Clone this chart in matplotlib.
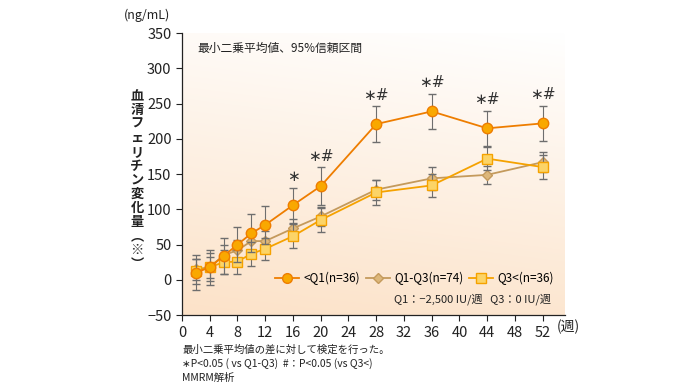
import numpy as np
import matplotlib
matplotlib.use("Agg")
import matplotlib.pyplot as plt
from matplotlib.lines import Line2D

plt.rcParams['font.family'] = ['Noto Sans CJK JP', 'DejaVu Sans']

weeks = [2, 4, 6, 8, 10, 12, 16, 20, 28, 36, 44, 52]
q1 = [10, 18, 34, 50, 66, 78, 106, 133, 221, 239, 215, 222]
q1_err = [25, 25, 25, 25, 27, 27, 25, 27, 25, 25, 25, 25]
mid = [15, 18, 35, 42, 55, 55, 73, 90, 128, 144, 149, 167]
mid_err = [15, 15, 15, 14, 14, 14, 14, 14, 14, 16, 13, 14]
q3 = [12, 18, 25, 26, 37, 44, 62, 85, 124, 134, 172, 160]
q3_err = [18, 20, 17, 17, 17, 16, 17, 17, 18, 16, 16, 17]
marks = {16: "\u2217", 20: "\u2217#", 28: "\u2217#", 36: "\u2217#", 44: "\u2217#", 52: "\u2217#"}

c_q1 = "#ee7d00"
c_mid = "#c49a5c"
c_q3 = "#f5a200"

fig = plt.figure(figsize=(7, 3.9), dpi=100)
ax = fig.add_axes([0.26, 0.192, 0.547, 0.723])

# background gradient
xs = np.linspace(0, 1, 200)
ys = np.linspace(0, 1, 200)
X, Y = np.meshgrid(xs, ys)
t = np.clip(0.85 * (1 - Y) + 0.15 * (1 - X), 0, 1)
top = np.array([1.0, 1.0, 1.0])
bot = np.array([252, 226, 200]) / 255
img = top[None, None, :] * (1 - t[..., None]) + bot[None, None, :] * t[..., None]
ax.imshow(img, extent=[0, 1, 0, 1], transform=ax.transAxes, aspect='auto', zorder=0, origin='lower')

ax.errorbar(weeks, mid, yerr=mid_err, color=c_mid, ecolor="#6e6e6e", elinewidth=0.8, capsize=3,
            marker="D", ms=5.5, mfc="#ddb77a", mec=c_mid, lw=1.3, zorder=3)
ax.errorbar(weeks, q3, yerr=q3_err, color=c_q3, ecolor="#6e6e6e", elinewidth=0.8, capsize=3,
            marker="s", ms=7, mfc="#fcd467", mec=c_q3, lw=1.3, zorder=4)
ax.errorbar(weeks, q1, yerr=q1_err, color=c_q1, ecolor="#6e6e6e", elinewidth=0.8, capsize=3,
            marker="o", ms=7.5, mfc="#f9a800", mec=c_q1, lw=1.3, zorder=5)

for w, s in marks.items():
    i = weeks.index(w)
    ax.text(w, q1[i] + q1_err[i] + 5, s, ha='center', va='bottom', fontsize=11, color="#333333",
            family=['DejaVu Sans'])

ax.set_xlim(0, 55.2)
ax.set_ylim(-50, 350)
ax.set_xticks(range(0, 53, 4))
ax.set_yticks(range(-50, 351, 50))
ax.tick_params(labelsize=10.5, colors="#222222", direction='out', length=4, width=0.8)
for s in ['top', 'right']:
    ax.spines[s].set_visible(False)
for s in ['left', 'bottom']:
    ax.spines[s].set_color("#222222")
    ax.spines[s].set_linewidth(0.9)

ax.text(0.04, 0.945, "最小二乗平均値、95%信頼区間", transform=ax.transAxes, fontsize=8.5,
        va='center', color="#222222")

handles = [
    Line2D([], [], color=c_q1, marker="o", ms=7, mfc="#f9a800", mec=c_q1, lw=1.3),
    Line2D([], [], color=c_mid, marker="D", ms=5, mfc="#ddb77a", mec=c_mid, lw=1.3),
    Line2D([], [], color=c_q3, marker="s", ms=7, mfc="#fcd467", mec=c_q3, lw=1.3),
]
ax.legend(handles, ["<Q1(n=36)", "Q1-Q3(n=74)", "Q3<(n=36)"], ncol=3, loc='lower right',
          bbox_to_anchor=(1.0, 0.07), frameon=False, fontsize=8.5, handlelength=2,
          columnspacing=0.5, handletextpad=0.4)
ax.text(0.965, 0.055, "Q1：−2,500 IU/週   Q3：0 IU/週", transform=ax.transAxes, fontsize=8,
        ha='right', va='center', color="#222222")

fig.text(557 / 700, 1 - 327 / 390, "(週)", fontsize=10, va='center', color="#222222")
fig.text(147 / 700, 1 - 15 / 390, "(ng/mL)", fontsize=9, ha='center', va='center', color="#222222")

ylab = "血清フェリチン変化量︵※︶"
fig.text(137 / 700, 1 - 180 / 390, "\n".join(ylab), fontsize=9.5, fontweight='bold', ha='center',
         va='center', linespacing=1.0, color="#222222")

notes = ["最小二乗平均値の差に対して検定を行った。",
         "\u2217P<0.05 ( vs Q1-Q3)  #：P<0.05 (vs Q3<)",
         "MMRM解析"]
for k, n in enumerate(notes):
    fig.text(182 / 700, 1 - (350 + 14 * k) / 390, n, fontsize=7.5, va='center', color="#222222")

fig.savefig("out.png", dpi=100)
